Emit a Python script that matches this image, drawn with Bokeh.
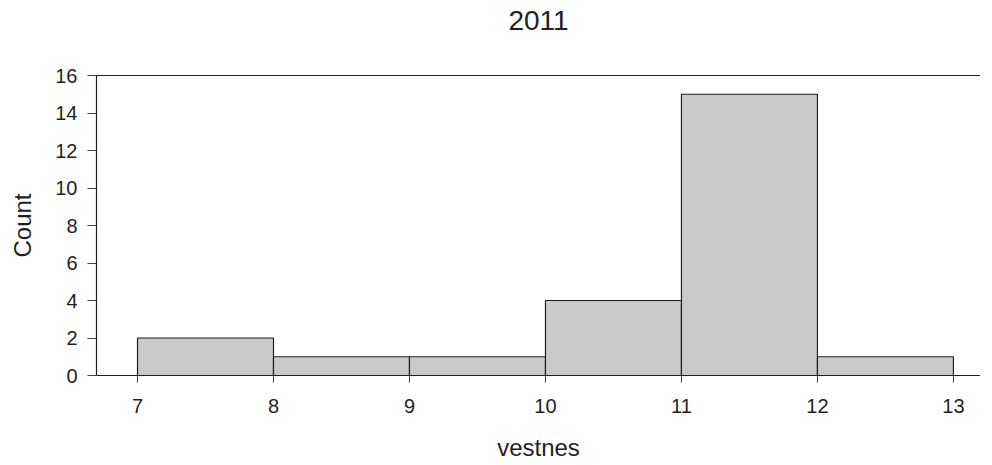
from bokeh.plotting import figure
from bokeh.models import LinearAxis, FixedTicker, Range1d
from bokeh.embed import file_html
from bokeh.resources import INLINE

# histogram of 2011 values
bin_edges = [7, 8, 9, 10, 11, 12, 13]
counts = [2, 1, 1, 4, 15, 1]
x_ticks = [7, 8, 9, 10, 11, 12, 13]
y_ticks = [0, 2, 4, 6, 8, 10, 12, 14, 16]

FONT = "Liberation Sans"
INK = "#1f1f1f"

p = figure(
    width=980,
    height=465,
    x_range=Range1d(6.6985, 13.199),
    y_range=Range1d(0, 16),
    output_backend="svg",
    toolbar_location=None,
    tools="",
    x_axis_location=None,
    y_axis_location=None,
    min_border_left=96,
    min_border_right=0,
    min_border_top=75,
    min_border_bottom=90,
)

p.quad(
    left=bin_edges[:-1],
    right=bin_edges[1:],
    bottom=0,
    top=counts,
    fill_color="#c8c9cb",
    line_color=INK,
    line_width=1.2,
)

# axes
xaxis = LinearAxis(ticker=FixedTicker(ticks=x_ticks), axis_label="vestnes")
yaxis = LinearAxis(ticker=FixedTicker(ticks=y_ticks), axis_label="Count")
p.add_layout(xaxis, "below")
p.add_layout(yaxis, "left")

for ax in (xaxis, yaxis):
    ax.minor_tick_line_color = None
    ax.major_tick_in = 0
    ax.axis_line_color = INK
    ax.axis_line_width = 1.2
    ax.major_tick_line_color = "#444444"
    ax.major_label_text_font = FONT
    ax.major_label_text_font_size = "20px"
    ax.major_label_text_color = INK
    ax.axis_label_text_font = FONT
    ax.axis_label_text_font_size = "24px"
    ax.axis_label_text_font_style = "normal"
    ax.axis_label_text_color = INK

xaxis.major_tick_out = 7
xaxis.major_label_standoff = 16
xaxis.axis_label_standoff = 18
yaxis.major_tick_out = 9
yaxis.major_label_standoff = 10
yaxis.axis_label_standoff = 16

# top border line, its label doubles as the chart title
top = LinearAxis(ticker=FixedTicker(ticks=[]), axis_label="2011")
top.axis_line_color = INK
top.axis_line_width = 1.2
top.major_tick_line_color = None
top.minor_tick_line_color = None
top.major_label_text_font_size = "0px"
top.axis_label_text_font = FONT
top.axis_label_text_font_size = "28px"
top.axis_label_text_font_style = "normal"
top.axis_label_text_color = INK
top.axis_label_standoff = 46
p.add_layout(top, "above")

p.xgrid.grid_line_color = None
p.ygrid.grid_line_color = None
p.outline_line_color = None
p.background_fill_color = "white"
p.border_fill_color = "white"

open("out.html", "w").write(file_html(p, INLINE))
